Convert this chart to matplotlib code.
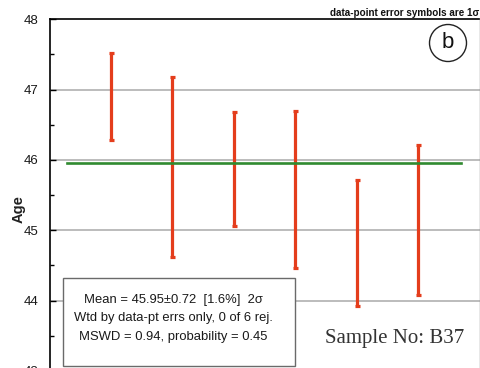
import matplotlib
matplotlib.use("Agg")
import matplotlib.pyplot as plt
from matplotlib.patches import Ellipse, Rectangle
from matplotlib.ticker import MultipleLocator

plt.rcParams['font.family'] = ['Liberation Sans', 'DejaVu Sans']

# Analyses (age and 1-sigma uncertainty)
spot = [1, 2, 3, 4, 5, 6]
age = [46.905, 45.90, 45.87, 45.58, 44.815, 45.15]
sigma1 = [0.615, 1.28, 0.81, 1.12, 0.895, 1.07]

# Weighted mean result
mean_age = 45.95
mean_span = [0.28, 6.70]
y_ticks = [43, 44, 45, 46, 47, 48]

summary_lines = [
    "Mean = 45.95\u00b10.72  [1.6%]  2\u03c3",
    "Wtd by data-pt errs only, 0 of 6 rej.",
    "MSWD = 0.94, probability = 0.45",
]
sample_label = "Sample No: B37"
panel_letter = "b"
header = "data-point error symbols are 1\u03c3"

W, H = 480, 368
fig = plt.figure(figsize=(W / 100, H / 100), dpi=100)
fig.patch.set_facecolor("white")

# Axes box in pixel terms (bottom edge falls just below the canvas)
ax_l, ax_r, ax_t, ax_b = 49.5, 479.5, 19.3, 371.0
ax = fig.add_axes([ax_l / W, 1 - ax_b / H, (ax_r - ax_l) / W, (ax_b - ax_t) / H])

ax.set_xlim(0, 7)
ax.set_ylim(43, 48)
ax.set_yticks(y_ticks)
ax.yaxis.set_minor_locator(MultipleLocator(0.5))
ax.set_xticks([])

for y in y_ticks[1:-1]:
    ax.axhline(y, color="#a9a9a9", lw=1.1, zorder=1)

ax.errorbar(spot, age, yerr=sigma1, fmt="none", ecolor="#e43d1c",
            elinewidth=2.3, capsize=1.8, capthick=2.3, zorder=3)

ax.plot(mean_span, [mean_age, mean_age], color="#2f8a2f", lw=1.9, zorder=4)

ax.tick_params(axis="y", which="major", direction="in", length=4, width=1,
               labelsize=9.5, pad=8, labelcolor="#1a1a1a")
ax.tick_params(axis="y", which="minor", direction="in", length=3, width=1)

ax.spines["left"].set_linewidth(1.2)
ax.spines["top"].set_linewidth(1.2)
ax.spines["right"].set_color("#8a8a8a")
ax.spines["right"].set_linewidth(1.0)

ax.set_ylabel("Age", fontsize=10.5, fontweight="bold", color="#222222")
ax.yaxis.set_label_coords(-0.0547, 0.461)

# Summary box
bx0, bx1 = (62.5 - ax_l) / (ax_r - ax_l), (295 - ax_l) / (ax_r - ax_l)
by1, by0 = 1 - (278 - ax_t) / (ax_b - ax_t), 1 - (366 - ax_t) / (ax_b - ax_t)
ax.add_patch(Rectangle((bx0, by0), bx1 - bx0, by1 - by0, transform=ax.transAxes,
                       facecolor="white", edgecolor="#6a6a6a", lw=1.0, zorder=5))
for i, line in enumerate(summary_lines):
    ax.text(0.2884, [0.2019, 0.1507, 0.0975][i], line, transform=ax.transAxes,
            ha="center", va="center", fontsize=9.4, color="#1a1a1a", zorder=6)

ax.text((395 - ax_l) / (ax_r - ax_l), 1 - (338 - ax_t) / (ax_b - ax_t), sample_label,
        transform=ax.transAxes, ha="center", va="center", fontsize=15,
        family="Liberation Serif", color="#333333", zorder=6)

# Panel letter in a circle
cx, cy = (448 - ax_l) / (ax_r - ax_l), 1 - (43 - ax_t) / (ax_b - ax_t)
ax.add_patch(Ellipse((cx, cy), 37 / (ax_r - ax_l), 37 / (ax_b - ax_t),
                     transform=ax.transAxes, facecolor="white",
                     edgecolor="#222222", lw=1.0, zorder=6))
ax.text(cx, cy, panel_letter, transform=ax.transAxes, ha="center", va="center",
        fontsize=16, color="#111111", zorder=7)

fig.text(479 / W, 1 - 13 / H, header, ha="right", va="center",
         fontsize=7.1, fontweight="bold", color="#111111")

fig.savefig("out.png", dpi=100, facecolor="white")
